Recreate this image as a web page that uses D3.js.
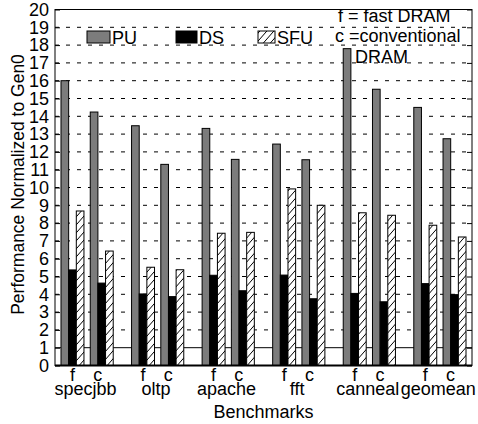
<!DOCTYPE html>
<html>
<head>
<meta charset="utf-8">
<script src="https://cdn.jsdelivr.net/npm/d3@7"></script>
<style>
  body { margin: 0; background: #fff; }
  text { font-family: "Liberation Sans", Arial, sans-serif; }
</style>
</head>
<body>
<svg id="chart"></svg>
<script>
const benchmarks = ["specjbb", "oltp", "apache", "fft", "canneal", "geomean"];
const configs = ["f", "c"];
const seriesNames = ["PU", "DS", "SFU"];
const yTicks = d3.range(0, 21);

// values read per benchmark, f = fast DRAM, c = conventional DRAM
const puF = [16.0, 13.47, 13.32, 12.44, 17.8, 14.5];
const puC = [14.24, 11.3, 11.58, 11.56, 15.52, 12.74];
const dsF = [5.37, 4.02, 5.07, 5.08, 4.05, 4.6];
const dsC = [4.63, 3.87, 4.2, 3.75, 3.58, 3.98];
const sfuF = [8.68, 5.52, 7.43, 9.92, 8.58, 7.88];
const sfuC = [6.43, 5.38, 7.48, 9.0, 8.44, 7.22];
const noteLines = ["f = fast DRAM", "c =conventional", "DRAM"];

const W = 478, H = 424;
const margin = { top: 9.5, right: 6, bottom: 58.5, left: 55 };

const svg = d3.select("#chart").attr("width", W).attr("height", H);
svg.append("rect").attr("width", W).attr("height", H).attr("fill", "#fff");

const defs = svg.append("defs");
const pat = defs.append("pattern")
  .attr("id", "hatch")
  .attr("patternUnits", "userSpaceOnUse")
  .attr("width", 7).attr("height", 8);
pat.append("rect").attr("width", 7).attr("height", 8).attr("fill", "#fff");
pat.append("path")
  .attr("d", "M0,8 L7,0 M-7,8 L0,0 M7,8 L14,0")
  .attr("stroke", "#000").attr("stroke-width", 1);

const x0 = d3.scaleBand()
  .domain(benchmarks)
  .range([margin.left, W - margin.right])
  .paddingInner(0.26)
  .paddingOuter(0.085);
const x1 = d3.scaleBand()
  .domain(configs)
  .range([0, x0.bandwidth()])
  .paddingInner(0.215);
const x2 = d3.scaleBand()
  .domain(seriesNames)
  .range([0, x1.bandwidth()]);
const y = d3.scaleLinear().domain([0, 20]).range([H - margin.bottom, margin.top]);

const fills = { PU: "#7c7c7c", DS: "#000", SFU: "url(#hatch)" };
const values = {
  PU: { f: puF, c: puC },
  DS: { f: dsF, c: dsC },
  SFU: { f: sfuF, c: sfuC },
};

const data = [];
benchmarks.forEach((b, i) => {
  configs.forEach((c) => {
    seriesNames.forEach((s) => {
      data.push({ bench: b, cfg: c, series: s, value: values[s][c][i] });
    });
  });
});

// dashed grid
svg.append("g")
  .selectAll("line")
  .data(yTicks.filter((t) => t > 1 && t < 20))
  .join("line")
  .attr("x1", margin.left).attr("x2", W - margin.right)
  .attr("y1", (d) => y(d)).attr("y2", (d) => y(d))
  .attr("stroke", "#000")
  .attr("stroke-width", 1)
  .attr("stroke-dasharray", "4,7");

// reference line at 1
svg.append("line")
  .attr("x1", margin.left).attr("x2", W - margin.right)
  .attr("y1", y(1)).attr("y2", y(1))
  .attr("stroke", "#000").attr("stroke-width", 1);

// bars
svg.append("g")
  .selectAll("rect")
  .data(data)
  .join("rect")
  .attr("x", (d) => x0(d.bench) + x1(d.cfg) + x2(d.series))
  .attr("y", (d) => y(d.value))
  .attr("width", x2.bandwidth())
  .attr("height", (d) => y(0) - y(d.value))
  .attr("fill", (d) => fills[d.series])
  .attr("stroke", "#000")
  .attr("stroke-width", 1);

// axes
svg.append("g")
  .attr("transform", `translate(${margin.left},0)`)
  .call(d3.axisLeft(y).tickValues(yTicks).tickSize(-5).tickPadding(6))
  .call((g) => g.select(".domain").remove())
  .call((g) => g.selectAll("text").attr("font-size", 18).attr("fill", "#000").attr("font-family", null));

svg.append("g")
  .attr("transform", `translate(${W - margin.right},0)`)
  .call(d3.axisRight(y).tickValues(yTicks).tickSize(-5).tickFormat(""))
  .call((g) => g.select(".domain").remove());

svg.append("rect")
  .attr("x", margin.left).attr("y", margin.top)
  .attr("width", W - margin.right - margin.left)
  .attr("height", y(0) - margin.top)
  .attr("fill", "none")
  .attr("stroke", "#000")
  .attr("stroke-width", 1);

svg.append("line")
  .attr("x1", margin.left).attr("x2", W - margin.right)
  .attr("y1", y(0)).attr("y2", y(0))
  .attr("stroke", "#000").attr("stroke-width", 2);

// x labels
const xl = svg.append("g").attr("font-size", 18);
benchmarks.forEach((b) => {
  const base = x0(b);
  xl.append("text")
    .attr("x", base + x1("f") + x1.bandwidth() / 2)
    .attr("y", 381)
    .attr("text-anchor", "middle")
    .text("f");
  xl.append("text")
    .attr("x", base + x1("c") + x1.bandwidth() / 2 - 4)
    .attr("y", 381)
    .attr("text-anchor", "middle")
    .text("c");
  xl.append("text")
    .attr("x", base + 24.5)
    .attr("y", 395)
    .attr("text-anchor", "middle")
    .text(b);
});

svg.append("text")
  .attr("x", (margin.left + W - margin.right) / 2)
  .attr("y", 418)
  .attr("text-anchor", "middle")
  .attr("font-size", 18)
  .text("Benchmarks");

svg.append("text")
  .attr("transform", `translate(24,${(margin.top + y(0)) / 2 - 3}) rotate(-90)`)
  .attr("text-anchor", "middle")
  .attr("font-size", 17.5)
  .text("Performance Normalized to Gen0");

// legend
const legendPos = [
  { box: 87, w: 23 },
  { box: 176, w: 21 },
  { box: 258, w: 17 },
];
const legend = svg.append("g");
seriesNames.forEach((s, i) => {
  const p = legendPos[i];
  legend.append("rect")
    .attr("x", p.box).attr("y", 31)
    .attr("width", p.w).attr("height", 12)
    .attr("fill", fills[s])
    .attr("stroke", "#000");
  legend.append("text")
    .attr("x", p.box + p.w + 2)
    .attr("y", 43.5)
    .attr("font-size", 18)
    .text(s);
});

// note
const noteX = [338, 335, 355];
const noteY = [22, 42, 63];
noteLines.forEach((t, i) => {
  svg.append("text")
    .attr("x", noteX[i]).attr("y", noteY[i])
    .attr("font-size", 18)
    .text(t);
});
</script>
</body>
</html>
